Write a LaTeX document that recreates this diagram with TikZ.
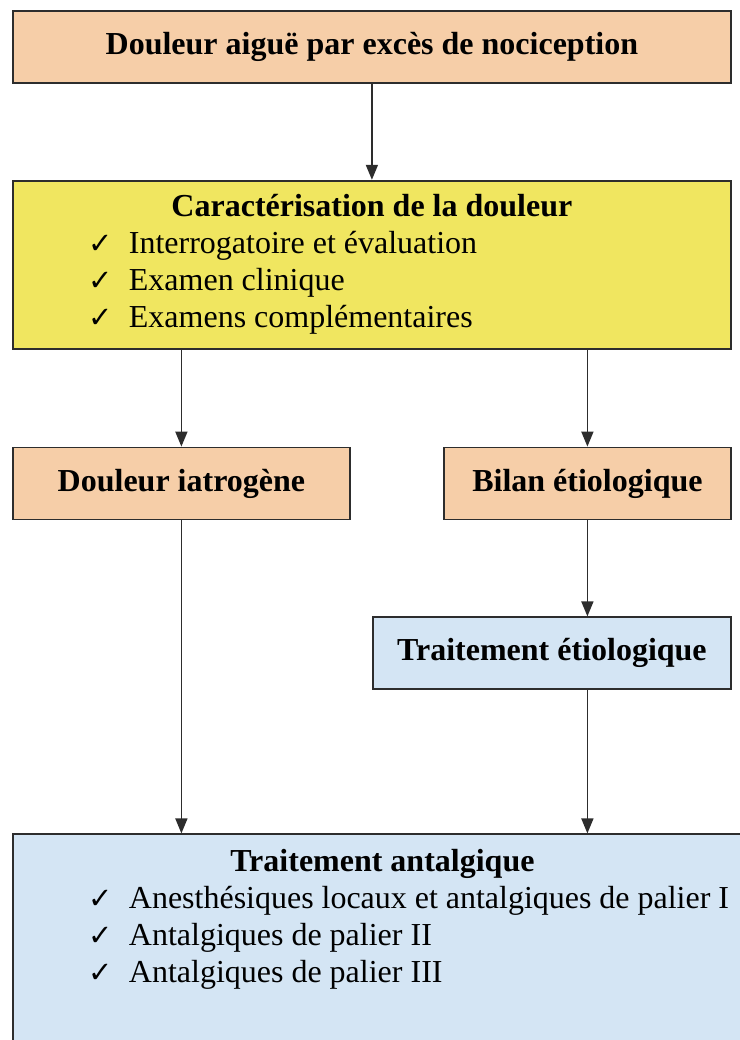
\documentclass[tikz,border=0pt]{standalone}
\usepackage{fontspec}
\setmainfont{Liberation Serif}
\newfontfamily\symfont{DejaVu Sans}
\usetikzlibrary{arrows.meta,
                positioning}
\definecolor{peach}{RGB}{246,206,168}
\definecolor{jaune}{RGB}{240,230,96}
\definecolor{bleu}{RGB}{212,229,244}
\definecolor{trait}{RGB}{45,45,45}
\newcommand{\coche}{\makebox[40pt][l]{\symfont\fontsize{29}{29}\selectfont ✓}}
\tikzset{
        base/.style={draw=trait, line width=1.8pt, align=center, inner sep=0pt,
                     font=\fontsize{32}{37}\selectfont},
        box/.style={base, rectangle, minimum height=72pt},
        peachbox/.style={box, fill=peach},
        bluebox/.style={box, fill=bleu},
        list/.style={base, rectangle, align=flush left, inner xsep=76pt, inner ysep=12pt},
        myarrow/.style={-{Triangle[length=15pt, width=12pt]}, line width=1.6pt,
                        draw=trait},
 }
\begin{document}
\begin{tikzpicture}[x=1pt, y=1pt]
    \useasboundingbox (0,0) rectangle (739,-1040);
    \node[peachbox, minimum width=718pt, anchor=north west] (douleur) at (12,-10)
        {\bfseries Douleur aiguë par excès de nociception};
    \node[list, fill=jaune, text width=566pt, minimum height=168pt,
          below=96pt of douleur] (carac)
        {\makebox[566pt]{\bfseries Caractérisation de la douleur}\\
         \coche Interrogatoire et évaluation\\
         \coche Examen clinique\\
         \coche Examens complémentaires};
    \node[peachbox, minimum width=337pt, below=97pt of carac.south west,
          anchor=north west] (iatro) {\bfseries Douleur iatrogène};
    \node[peachbox, minimum width=287pt, below=97pt of carac.south east,
          anchor=north east] (bilan) {\bfseries Bilan étiologique};
    \node[bluebox, minimum width=358pt, below=96pt of bilan.south east,
          anchor=north east] (etio) {\bfseries Traitement étiologique};
    \node[list, fill=bleu, text width=640pt, inner ysep=15pt,
          below=313pt of iatro.south west, anchor=north west] (antal)
        {\makebox[587pt]{\bfseries Traitement antalgique}\\
         \coche Anesthésiques locaux et antalgiques de palier I\\
         \coche Antalgiques de palier II\\
         \coche Antalgiques de palier III\\
         \rule{0pt}{120pt}};
    \draw[myarrow] (douleur) -- (carac);
    \draw[myarrow] (carac.south -| iatro) -- (iatro);
    \draw[myarrow] (carac.south -| bilan) -- (bilan);
    \draw[myarrow] (bilan) -- (bilan.south |- etio.north);
    \draw[myarrow] (iatro) -- (iatro |- antal.north);
    \draw[myarrow] (etio.south -| bilan) -- (bilan |- antal.north);
\end{tikzpicture}
\end{document}
